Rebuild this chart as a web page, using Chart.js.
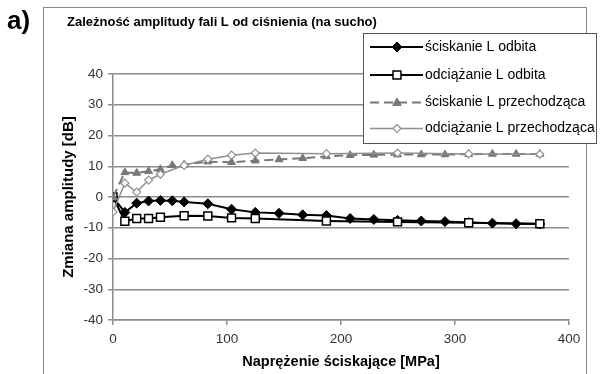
<!DOCTYPE html>
<html>
<head>
<meta charset="utf-8">
<style>
  html, body { margin: 0; padding: 0; background: #fff; }
  #wrap { width: 601px; height: 374px; }
</style>
</head>
<body>
<div id="wrap"><canvas id="myChart" width="601" height="374"></canvas></div>
<script src="https://cdn.jsdelivr.net/npm/chart.js@4.4.1/dist/chart.umd.min.js"></script>
<script>
    // stress values [MPa] for the loading runs (all points) and unloading runs
    const stressLoad = [0, 10.4, 20.8, 31.2, 41.6, 52, 62.4, 83.2, 104, 124.8, 145.6, 166.4,
        187.2, 208, 228.8, 249.6, 270.4, 291.2, 312, 332.8, 353.6, 374.4]
    const stressUnload = [0, 10.4, 20.8, 31.2, 41.6, 62.4, 83.2, 104, 124.8, 187.2, 249.6, 312, 374.4]

    // amplitude change [dB]
    const compReflected = [0, -5, -2, -1.3, -1.1, -1.2, -1.6, -2.2, -4, -5, -5.3, -5.8,
        -6, -7, -7.3, -7.6, -7.8, -8, -8.3, -8.5, -8.7, -8.8]
    const unloadReflected = [0, -7.9, -7, -7, -6.6, -6.1, -6.2, -6.8, -7, -7.8, -8.1, -8.4, -8.7]
    const compTransmitted = [0, 8, 7.8, 8.4, 9, 10.3, 10.5, 11.5, 11.3, 11.8, 12.2, 12.6,
        13.2, 13.6, 13.7, 13.8, 13.8, 13.8, 13.9, 14, 14, 14]
    const unloadTransmitted = [-4.8, 4.5, 1.6, 5.5, 7.4, 10.3, 12.3, 13.6, 14.3, 14.1, 14.3, 14, 13.9]

    const seriesLabels = ['ściskanie L odbita', 'odciążanie L odbita',
        'ściskanie L przechodząca', 'odciążanie L przechodząca']
    const yTicks = [-40, -30, -20, -10, 0, 10, 20, 30, 40]
    const xTicks = [0, 100, 200, 300, 400]

    const FONT = "'Liberation Sans', Arial, sans-serif"

    function pts(xs, ys) {
        return xs.map((x, i) => ({ x: x, y: ys[i] }))
    }

    function drawMarker(ctx, style, r, x, y) {
        if (style === 'rect') {
            const s = r * Math.SQRT1_2
            ctx.rect(x - s, y - s, 2 * s, 2 * s)
        } else if (style === 'rectRot') {
            ctx.moveTo(x, y - r); ctx.lineTo(x + r, y); ctx.lineTo(x, y + r); ctx.lineTo(x - r, y); ctx.closePath()
        } else if (style === 'triangle') {
            ctx.moveTo(x, y - r); ctx.lineTo(x + r * 0.95, y + r * 0.65); ctx.lineTo(x - r * 0.95, y + r * 0.65); ctx.closePath()
        }
    }

    // draws frame, "a)", title and the boxed legend
    const decorations = {
        id: 'decorations',
        afterDraw(chart) {
            const ctx = chart.ctx
            ctx.save()
            // outer frame
            ctx.strokeStyle = '#8a8a8a'
            ctx.lineWidth = 1
            ctx.strokeRect(43.5, 7.5, 543, 380)
            // panel letter + title
            ctx.fillStyle = '#000'
            ctx.textBaseline = 'middle'
            ctx.textAlign = 'left'
            ctx.font = 'bold 26px ' + FONT
            ctx.fillText('a)', 7, 22)
            ctx.font = 'bold 13px ' + FONT
            ctx.fillText('Zależność amplitudy fali L od ciśnienia (na sucho)', 67, 22)

            // legend box
            const bx = 363.5, by = 33.5, bw = 233, bh = 110
            ctx.fillStyle = '#fff'
            ctx.fillRect(bx, by, bw, bh)
            ctx.strokeStyle = '#555'
            ctx.strokeRect(bx, by, bw, bh)
            const rows = [47, 75, 102.5, 128.5]
            chart.data.datasets.forEach((ds, i) => {
                const y = rows[i]
                ctx.save()
                ctx.strokeStyle = ds.borderColor
                ctx.lineWidth = ds.borderWidth
                ctx.setLineDash(ds.borderDash || [])
                ctx.beginPath()
                ctx.moveTo(370, y)
                ctx.lineTo(423, y)
                ctx.stroke()
                ctx.restore()
                ctx.fillStyle = ds.pointBackgroundColor
                ctx.strokeStyle = ds.pointBorderColor
                ctx.lineWidth = ds.pointBorderWidth
                ctx.beginPath()
                drawMarker(ctx, ds.pointStyle, ds.pointRadius, 397, y)
                ctx.fill()
                ctx.stroke()
                ctx.fillStyle = '#000'
                ctx.font = '14px ' + FONT
                ctx.textAlign = 'left'
                ctx.textBaseline = 'middle'
                ctx.fillText(ds.label, 425, y)
            })
            ctx.restore()
        }
    }

    const ctx = document.getElementById('myChart')
    const myChart = new Chart(ctx, {
        type: 'line',
        data: {
            datasets: [{
                label: seriesLabels[0],
                data: pts(stressLoad, compReflected),
                borderColor: '#000',
                borderWidth: 2,
                pointStyle: 'rectRot',
                pointRadius: 5,
                pointBackgroundColor: '#000',
                pointBorderColor: '#000',
                pointBorderWidth: 1,
                order: 3
            }, {
                label: seriesLabels[1],
                data: pts(stressUnload, unloadReflected),
                borderColor: '#000',
                borderWidth: 2,
                pointStyle: 'rect',
                pointRadius: 5.6,
                pointBackgroundColor: '#fff',
                pointBorderColor: '#000',
                pointBorderWidth: 1.5,
                order: 2
            }, {
                label: seriesLabels[2],
                data: pts(stressLoad, compTransmitted),
                borderColor: '#777',
                borderWidth: 2,
                borderDash: [9, 5],
                pointStyle: 'triangle',
                pointRadius: 4.5,
                pointBackgroundColor: '#777',
                pointBorderColor: '#777',
                pointBorderWidth: 1,
                order: 1
            }, {
                label: seriesLabels[3],
                data: pts(stressUnload, unloadTransmitted),
                borderColor: '#8f8f8f',
                borderWidth: 1.5,
                pointStyle: 'rectRot',
                pointRadius: 4,
                pointBackgroundColor: '#fff',
                pointBorderColor: '#8f8f8f',
                pointBorderWidth: 1.2,
                order: 0
            }]
        },
        options: {
            responsive: false,
            animation: false,
            layout: { padding: { left: 60, top: 74, right: 32, bottom: 0 } },
            plugins: {
                legend: { display: false },
                tooltip: { enabled: false }
            },
            scales: {
                x: {
                    type: 'linear',
                    min: 0,
                    max: 400,
                    afterBuildTicks: (s) => { s.ticks = xTicks.map(v => ({ value: v })) },
                    afterFit: (s) => { s.height = 54 },
                    grid: { display: true, drawOnChartArea: false, drawTicks: true, tickLength: 5, color: '#8c8c8c', lineWidth: 1.5 },
                    border: { color: '#8c8c8c', width: 1.5 },
                    ticks: { color: '#333', font: { family: FONT, size: 13.5 }, padding: 6, maxRotation: 0 },
                    title: { display: true, text: 'Naprężenie ściskające [MPa]', color: '#000',
                        font: { family: FONT, size: 14.5, weight: 'bold' }, padding: { top: 0, bottom: 3 } }
                },
                y: {
                    min: -40,
                    max: 40,
                    afterBuildTicks: (s) => { s.ticks = yTicks.map(v => ({ value: v })) },
                    afterFit: (s) => { s.width = 53 },
                    grid: { color: '#8c8c8c', lineWidth: 1.5, tickLength: 5 },
                    border: { color: '#8c8c8c', width: 1.5 },
                    ticks: { color: '#333', font: { family: FONT, size: 13.5 }, padding: 5 },
                    title: { display: true, text: 'Zmiana amplitudy [dB]', color: '#000',
                        font: { family: FONT, size: 15, weight: 'bold' }, padding: { top: 0, bottom: 0 } }
                }
            }
        },
        plugins: [decorations]
    });
</script>
</body>
</html>
